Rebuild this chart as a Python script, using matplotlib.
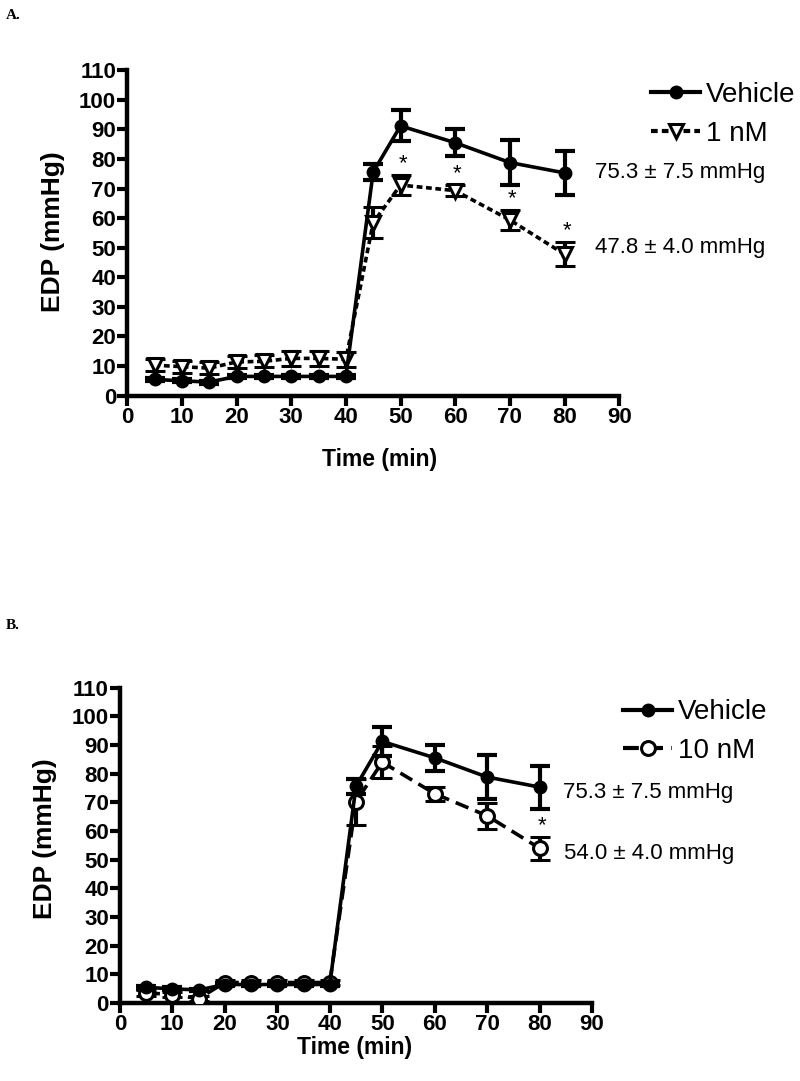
import matplotlib
matplotlib.use("Agg")
import matplotlib.pyplot as plt
from matplotlib.lines import Line2D

# time points (min)
time = [5, 10, 15, 20, 25, 30, 35, 40, 45, 50, 60, 70, 80]

# vehicle (same in both panels)
veh_mean = [5.5, 5.0, 4.6, 6.5, 6.5, 6.5, 6.5, 6.5, 75.6, 91.2, 85.5, 78.8, 75.3]
veh_err = [0.5, 0.5, 0.5, 0.5, 0.5, 0.5, 0.5, 0.5, 2.6, 5.2, 4.6, 7.6, 7.5]

# panel A: 1 nM
nm1_mean = [10.3, 9.8, 9.3, 11.4, 11.6, 12.6, 12.6, 12.3, 58.5, 71.2, 69.3, 59.4, 47.8]
nm1_err = [2.0, 2.0, 2.0, 2.0, 2.0, 2.5, 2.5, 2.5, 5.3, 3.3, 1.8, 3.4, 4.0]
nm1_star = [50, 60, 70, 80]

# panel B: 10 nM
nm10_mean = [3.6, 3.0, 1.6, 7.2, 7.2, 7.2, 7.2, 7.2, 70.2, 84.0, 73.0, 65.3, 54.0]
nm10_err = [1.0, 1.0, 1.0, 0.8, 0.8, 0.8, 0.8, 0.8, 8.0, 5.5, 2.4, 4.5, 4.0]
nm10_star = [80]

yticks = list(range(0, 111, 10))
xticks = list(range(0, 91, 10))

plt.rcParams['font.family'] = ['Liberation Sans', 'DejaVu Sans']

fig = plt.figure(figsize=(8, 10.81), dpi=100)


def style_axes(ax, xlab_pos, ylab_pos):
    ax.set_xlim(0, 90)
    ax.set_ylim(0, 110)
    ax.set_xticks(xticks)
    ax.set_yticks(yticks)
    for s in ['top', 'right']:
        ax.spines[s].set_visible(False)
    for s in ['left', 'bottom']:
        ax.spines[s].set_linewidth(3.2)
    ax.tick_params(width=3, length=7, labelsize=16, pad=1)
    for lab in ax.get_xticklabels() + ax.get_yticklabels():
        lab.set_fontweight('bold')
    ax.set_xlabel("Time (min)", fontsize=16.5, fontweight='bold')
    ax.set_ylabel("EDP (mmHg)", fontsize=19, fontweight='bold')
    ax.xaxis.set_label_coords(*xlab_pos)
    ax.yaxis.set_label_coords(*ylab_pos)


def draw_panel(ax, mean2, err2, marker2, ls2, label2, stars):
    ax.errorbar(time, mean2, yerr=err2, color='black', lw=2.6, ls=ls2,
                marker=marker2, ms=10, mfc='white', mec='black', mew=2.2,
                capsize=7, capthick=3, elinewidth=3, zorder=3)
    ax.errorbar(time, veh_mean, yerr=veh_err, color='black', lw=2.6, ls='-',
                marker='o', ms=9, mfc='black', mec='black',
                capsize=7, capthick=3, elinewidth=3, zorder=4)
    for t in stars:
        i = time.index(t)
        ax.text(t + 0.4, mean2[i] + err2[i] + 0.3, "*", fontsize=16,
                ha='center', va='bottom')
    handles = [
        Line2D([], [], color='black', lw=3, marker='o', ms=9),
        Line2D([], [], color='black', lw=3, ls=ls2, marker=marker2, ms=10,
               mfc='white', mew=2.2),
    ]
    return handles, ['Vehicle', label2]


# panel A
axA = fig.add_axes([0.159, 0.634, 0.615, 0.301])
h, l = draw_panel(axA, nm1_mean, nm1_err, 'v', (0, (1.6, 1.0)), '1 nM', nm1_star)
style_axes(axA, (0.512, -0.16), (-0.126, 0.503))
axA.text(85.5, 75.3, "75.3 \u00b1 7.5 mmHg", fontsize=16, va='center', ha='left', clip_on=False)
axA.text(85.5, 50.0, "47.8 \u00b1 4.0 mmHg", fontsize=16, va='center', ha='left', clip_on=False)
axA.legend(h, l, loc='upper left', bbox_to_anchor=(0.814, 0.924),
           bbox_transform=fig.transFigure, frameon=False, fontsize=20,
           handlelength=1.76, handletextpad=0.2, labelspacing=0.45,
           borderaxespad=0, borderpad=0)
fig.text(0.007, 0.982, "A.", fontsize=11, fontweight='bold', family='Liberation Serif')

# panel B
axB = fig.add_axes([0.150, 0.072, 0.590, 0.292])
h, l = draw_panel(axB, nm10_mean, nm10_err, 'o', (0, (3.8, 2.0)), '10 nM', nm10_star)
style_axes(axB, (0.498, -0.105), (-0.133, 0.52))
axB.text(84.5, 73.5, "75.3 \u00b1 7.5 mmHg", fontsize=16, va='center', ha='left', clip_on=False)
axB.text(84.7, 52.3, "54.0 \u00b1 4.0 mmHg", fontsize=16, va='center', ha='left', clip_on=False)
axB.legend(h, l, loc='upper left', bbox_to_anchor=(0.779, 0.353),
           bbox_transform=fig.transFigure, frameon=False, fontsize=20,
           handlelength=1.76, handletextpad=0.2, labelspacing=0.45,
           borderaxespad=0, borderpad=0)
fig.text(0.007, 0.418, "B.", fontsize=11, fontweight='bold', family='Liberation Serif')

fig.savefig("out.png", dpi=100)
